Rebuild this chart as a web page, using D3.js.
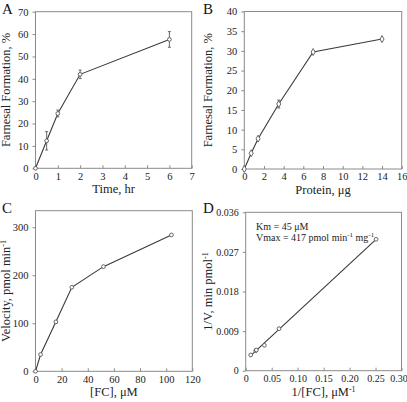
<!DOCTYPE html>
<html><head><meta charset="utf-8">
<script src="https://cdn.jsdelivr.net/npm/d3@7"></script>
<style>body{margin:0;background:#fff}svg{display:block}</style>
</head><body>
<svg id="c" width="407" height="402"></svg>
<script>
// Panel A: time course
const timeHr = [0, 0.5, 1, 2, 6];
const farnesalA = [0, 12.3, 24.5, 42, 57.6];
const errA = [0, 4.1, 1.5, 1.9, 3.5];
const ticksAx = [0,1,2,3,4,5,6,7];
const ticksAy = [0,10,20,30,40,50,60,70];
// Panel B: protein
const proteinUg = [0, 0.7, 1.4, 3.5, 7, 14];
const farnesalB = [0, 4, 7.7, 16.5, 29.7, 33];
const errB = [0, 0, 0, 1.0, 0, 0];
const ticksBx = [0,2,4,6,8,10,12,14,16];
const ticksBy = [0,5,10,15,20,25,30,35,40];
// Panel C: velocity vs [FC]
const fcUM = [0, 3.9, 15.6, 27.8, 52, 104];
const velocity = [0, 35, 103, 175, 218, 284];
const ticksCx = [0,20,40,60,80,100,120];
const ticksCy = [0,100,200,300];
// Panel D: double reciprocal
const invFC = [0.0096, 0.0192, 0.0205, 0.0360, 0.0641, 0.2510];
const invV = [0.00357, 0.00455, 0.00470, 0.00577, 0.00955, 0.02986];
const ticksDx = [0,0.05,0.10,0.15,0.20,0.25,0.30];
const ticksDy = [0,0.009,0.018,0.027,0.036];

const svg = d3.select("#c");
const FONT = "'Liberation Serif', 'Times New Roman', serif";
const frameCol = "#8a8a8a", lineCol = "#3a3a3a";

function panel(o){
  const g = svg.append("g");
  const x = d3.scaleLinear().domain(o.xd).range([o.x0, o.x1]);
  const y = d3.scaleLinear().domain(o.yd).range([o.y1, o.y0]);
  g.append("rect").attr("x",o.x0).attr("y",o.y0).attr("width",o.x1-o.x0).attr("height",o.y1-o.y0)
    .attr("fill","none").attr("stroke",frameCol).attr("stroke-width",1);
  const ax = g.append("g").attr("transform",`translate(0,${o.y1})`)
    .call(d3.axisBottom(x).tickValues(o.xt).tickSize(-3).tickPadding(4).tickFormat(o.xf));
  const ay = g.append("g").attr("transform",`translate(${o.x0},0)`)
    .call(d3.axisLeft(y).tickValues(o.yt).tickSize(3).tickPadding(4).tickFormat(o.yf));
  [ax,ay].forEach(a=>{
    a.select(".domain").remove();
    a.selectAll("line").attr("stroke",frameCol);
    a.selectAll("text").attr("font-family",FONT).attr("font-size",o.fs||10.5).attr("fill","#222");
  });
  g.append("text").attr("x",(o.x0+o.x1)/2).attr("y",o.y1+25).attr("text-anchor","middle")
    .attr("font-family",FONT).attr("font-size",12.5).attr("fill","#222").html(o.xt_title);
  g.append("text").attr("transform",`translate(${o.ytx},${(o.y0+o.y1)/2}) rotate(-90)`).attr("text-anchor","middle")
    .attr("font-family",FONT).attr("font-size",12.5).attr("fill","#222").html(o.yt_title);
  g.append("text").attr("x",o.lx).attr("y",o.ly).attr("font-family",FONT).attr("font-size",15).attr("fill","#111").text(o.letter);
  return {g,x,y,ax};
}

function series(p, xs, ys, errs, shape, drawLine){
  const pts = xs.map((v,i)=>({x:v,y:ys[i],e:errs?errs[i]:0}));
  if(drawLine) p.g.append("path").datum(pts).attr("fill","none").attr("stroke",lineCol).attr("stroke-width",1.1)
    .attr("d",d3.line().x(d=>p.x(d.x)).y(d=>p.y(d.y)));
  const eb = p.g.selectAll(null).data(pts.filter(d=>d.e>0)).enter().append("g");
  eb.append("line").attr("x1",d=>p.x(d.x)).attr("x2",d=>p.x(d.x)).attr("y1",d=>p.y(d.y-d.e)).attr("y2",d=>p.y(d.y+d.e)).attr("stroke","#666");
  [-1,1].forEach(s=>eb.append("line").attr("x1",d=>p.x(d.x)-1.5).attr("x2",d=>p.x(d.x)+1.5)
    .attr("y1",d=>p.y(d.y+s*d.e)).attr("y2",d=>p.y(d.y+s*d.e)).attr("stroke","#666"));
  const sym = d3.symbol().type(shape==="diamond"?d3.symbolDiamond:d3.symbolCircle).size(shape==="diamond"?14:11);
  p.g.selectAll(null).data(pts).enter().append("path").attr("d",sym)
    .attr("transform",d=>`translate(${p.x(d.x)},${p.y(d.y)})`).attr("fill","#fff").attr("stroke","#555").attr("stroke-width",0.9);
}

const fmt0 = d3.format("d");
const pA = panel({x0:35.5,x1:191.7,y0:11.7,y1:168.3,xd:[0,7],yd:[0,70],xt:ticksAx,yt:ticksAy,xf:fmt0,yf:fmt0,
  xt_title:"Time, hr", yt_title:"Farnesal Formation, %", ytx:10, letter:"A", lx:2, ly:14});
series(pA, timeHr, farnesalA, errA, "circle", true);

const pB = panel({x0:244.3,x1:401.7,y0:11.5,y1:169,xd:[0,16],yd:[0,40],xt:ticksBx,yt:ticksBy,xf:fmt0,yf:fmt0,
  xt_title:"Protein, μg", yt_title:"Farnesal Formation, %", ytx:212, letter:"B", lx:203, ly:14});
series(pB, proteinUg, farnesalB, errB, "diamond", true);

const pC = panel({x0:35.5,x1:192.3,y0:210.7,y1:371.3,xd:[0,120],yd:[0,334.5],xt:ticksCx,yt:ticksCy,xf:fmt0,yf:fmt0,
  xt_title:"[FC], μM", yt_title:"Velocity, pmol min<tspan dy='-4' font-size='8'>-1</tspan>", ytx:10, letter:"C", lx:2, ly:213});
series(pC, fcUM, velocity, null, "circle", true);

const pD = panel({x0:245.7,x1:401.5,y0:212.3,y1:370.7,xd:[0,0.3],yd:[0,0.036],xt:ticksDx,yt:ticksDy,fs:10,
  xf:d=>d===0?"0":d3.format(".2f")(d), yf:d=>d===0?"0":d3.format(".3f")(d),
  xt_title:"1/[FC], μM<tspan dy='-4' font-size='8'>-1</tspan>", yt_title:"1/V, min pmol<tspan dy='-4' font-size='8'>-1</tspan>", ytx:212, letter:"D", lx:203, ly:213});
// keep the last tick label inside the window
pD.ax.selectAll(".tick text").filter((d,i,n)=>i===n.length-1).attr("dx",-3);
const mx = d3.mean(invFC), my = d3.mean(invV);
const slope = d3.sum(invFC.map((v,i)=>(v-mx)*(invV[i]-my)))/d3.sum(invFC.map(v=>(v-mx)*(v-mx)));
const icpt = my - slope*mx;
const xr = d3.extent(invFC);
pD.g.append("line").attr("x1",pD.x(xr[0])).attr("x2",pD.x(xr[1])).attr("y1",pD.y(icpt+slope*xr[0])).attr("y2",pD.y(icpt+slope*xr[1]))
  .attr("stroke",lineCol).attr("stroke-width",1.1);
series(pD, invFC, invV, null, "circle", false);
pD.g.append("text").attr("x",256).attr("y",230).attr("font-family",FONT).attr("font-size",10).attr("fill","#222").text("Km = 45 μM");
pD.g.append("text").attr("x",256).attr("y",241).attr("font-family",FONT).attr("font-size",10).attr("fill","#222")
  .html("Vmax = 417 pmol min<tspan dy='-4' font-size='7'>-1</tspan><tspan dy='4'> mg</tspan><tspan dy='-4' font-size='7'>-1</tspan>");
</script>
</body></html>
